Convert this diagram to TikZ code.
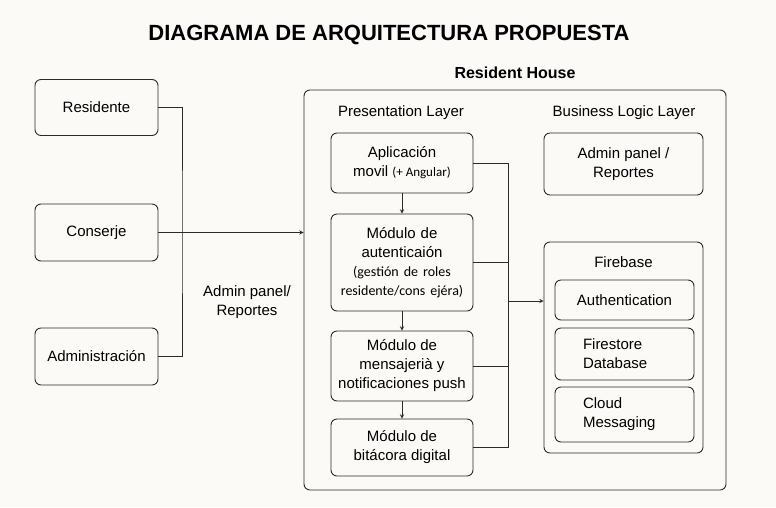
\documentclass[tikz,border=0pt]{standalone}
\usepackage{fontspec}
\setmainfont{Liberation Sans}
\newfontfamily\estrecha{Carlito}
\usetikzlibrary{arrows}
\definecolor{fondo}{HTML}{FBFAF6}
\definecolor{trazo}{HTML}{2A2A2A}
\tikzstyle{caja} = [rectangle, rounded corners=6pt, draw=trazo, line width=0.9pt, align=center,
text=black, font=\fontsize{15}{19}\selectfont]
\tikzstyle{etiqueta} = [align=center, font=\fontsize{15}{19}\selectfont]
\tikzstyle{linea} = [draw=trazo, line width=0.9pt]
\tikzstyle{flecha} = [linea, ->, >=stealth]

\begin{document}
\begin{tikzpicture}[x=1pt, y=-1pt]

    \fill[fondo] (0,0) rectangle (776,507);
    \useasboundingbox (0,0) rectangle (776,507);

    \node (titulo) at (389,35) {\fontsize{22}{26}\selectfont\bfseries DIAGRAMA DE ARQUITECTURA PROPUESTA};

    % actores
    \node (res) [caja, minimum width=123pt, minimum height=56pt] at (96.5,107.5) {Residente};
    \node (con) [caja, minimum width=123pt, minimum height=57pt] at (96.5,232.5) {Conserje};
    \node (adm) [caja, minimum width=123pt, minimum height=57pt] at (96.5,356.5) {Administración};

    \coordinate (bus) at (182,232);
    \node (panel) [etiqueta] at (247,302) {Admin panel/\\Reportes};

    % sistema
    \node (house) [caja, minimum width=422pt, minimum height=400pt] at (515,290) {};
    \node (nombre) at (515,73) {\fontsize{16}{19}\selectfont\bfseries Resident House};

    \node (pres) [etiqueta] at (401,113) {Presentation Layer};
    \node (logic) [etiqueta] at (624,113) {Business Logic Layer};

    \node (app) [caja, minimum width=142pt, minimum height=60pt] at (402,163)
        {Aplicación\\movil {\estrecha\fontsize{13}{14}\selectfont(+ Angular)}};
    \node (aut) [caja, text width=130pt, inner xsep=6pt, minimum height=97pt] at (402,262.5)
        {Módulo de\\autenticaión\\[-1pt]\estrecha\fontsize{14}{20}\selectfont(gestión de roles\\residente/cons ejéra)};
    \node (msg) [caja, minimum width=142pt, minimum height=70pt] at (402,366)
        {Módulo de\\mensajerià y\\notificaciones push};
    \node (bit) [caja, minimum width=142pt, minimum height=57pt] at (402,447.5)
        {Módulo de\\bitácora digital};

    \node (admin) [caja, minimum width=159pt, minimum height=62pt] at (623.5,164)
        {Admin panel /\\Reportes};
    \node (fire) [caja, minimum width=159pt, minimum height=211pt] at (623.5,347.5) {};
    \node (firelbl) [etiqueta] at (623.5,262) {Firebase};
    \node (auth) [caja, minimum width=139pt, minimum height=40pt] at (624.5,300) {Authentication};
    \node (store) [caja, align=left, text width=83pt, inner xsep=28pt, minimum height=52pt] at (624.5,354)
        {Firestore\\Database};
    \node (cloud) [caja, align=left, text width=83pt, inner xsep=28pt, minimum height=55pt] at (624.5,414.5)
        {Cloud\\Messaging};

    \coordinate (col) at (508,301);

    % conexiones
    \draw[linea] (res.east) -| (bus) -- (bus |- adm.east) -- (adm.east);
    \draw[flecha] (con.east) -- (con.east -| house.west);

    \draw[flecha] (app) -- (aut);
    \draw[flecha] (aut) -- (msg);
    \draw[flecha] (msg) -- (bit);

    \draw[linea] (app.east) -- (app.east -| col) -- (bit.east -| col) -- (bit.east);
    \draw[linea] (aut.east) -- (aut.east -| col);
    \draw[linea] (msg.east) -- (msg.east -| col);
    \draw[flecha] (col) -- (col -| fire.west);

\end{tikzpicture}
\end{document}
